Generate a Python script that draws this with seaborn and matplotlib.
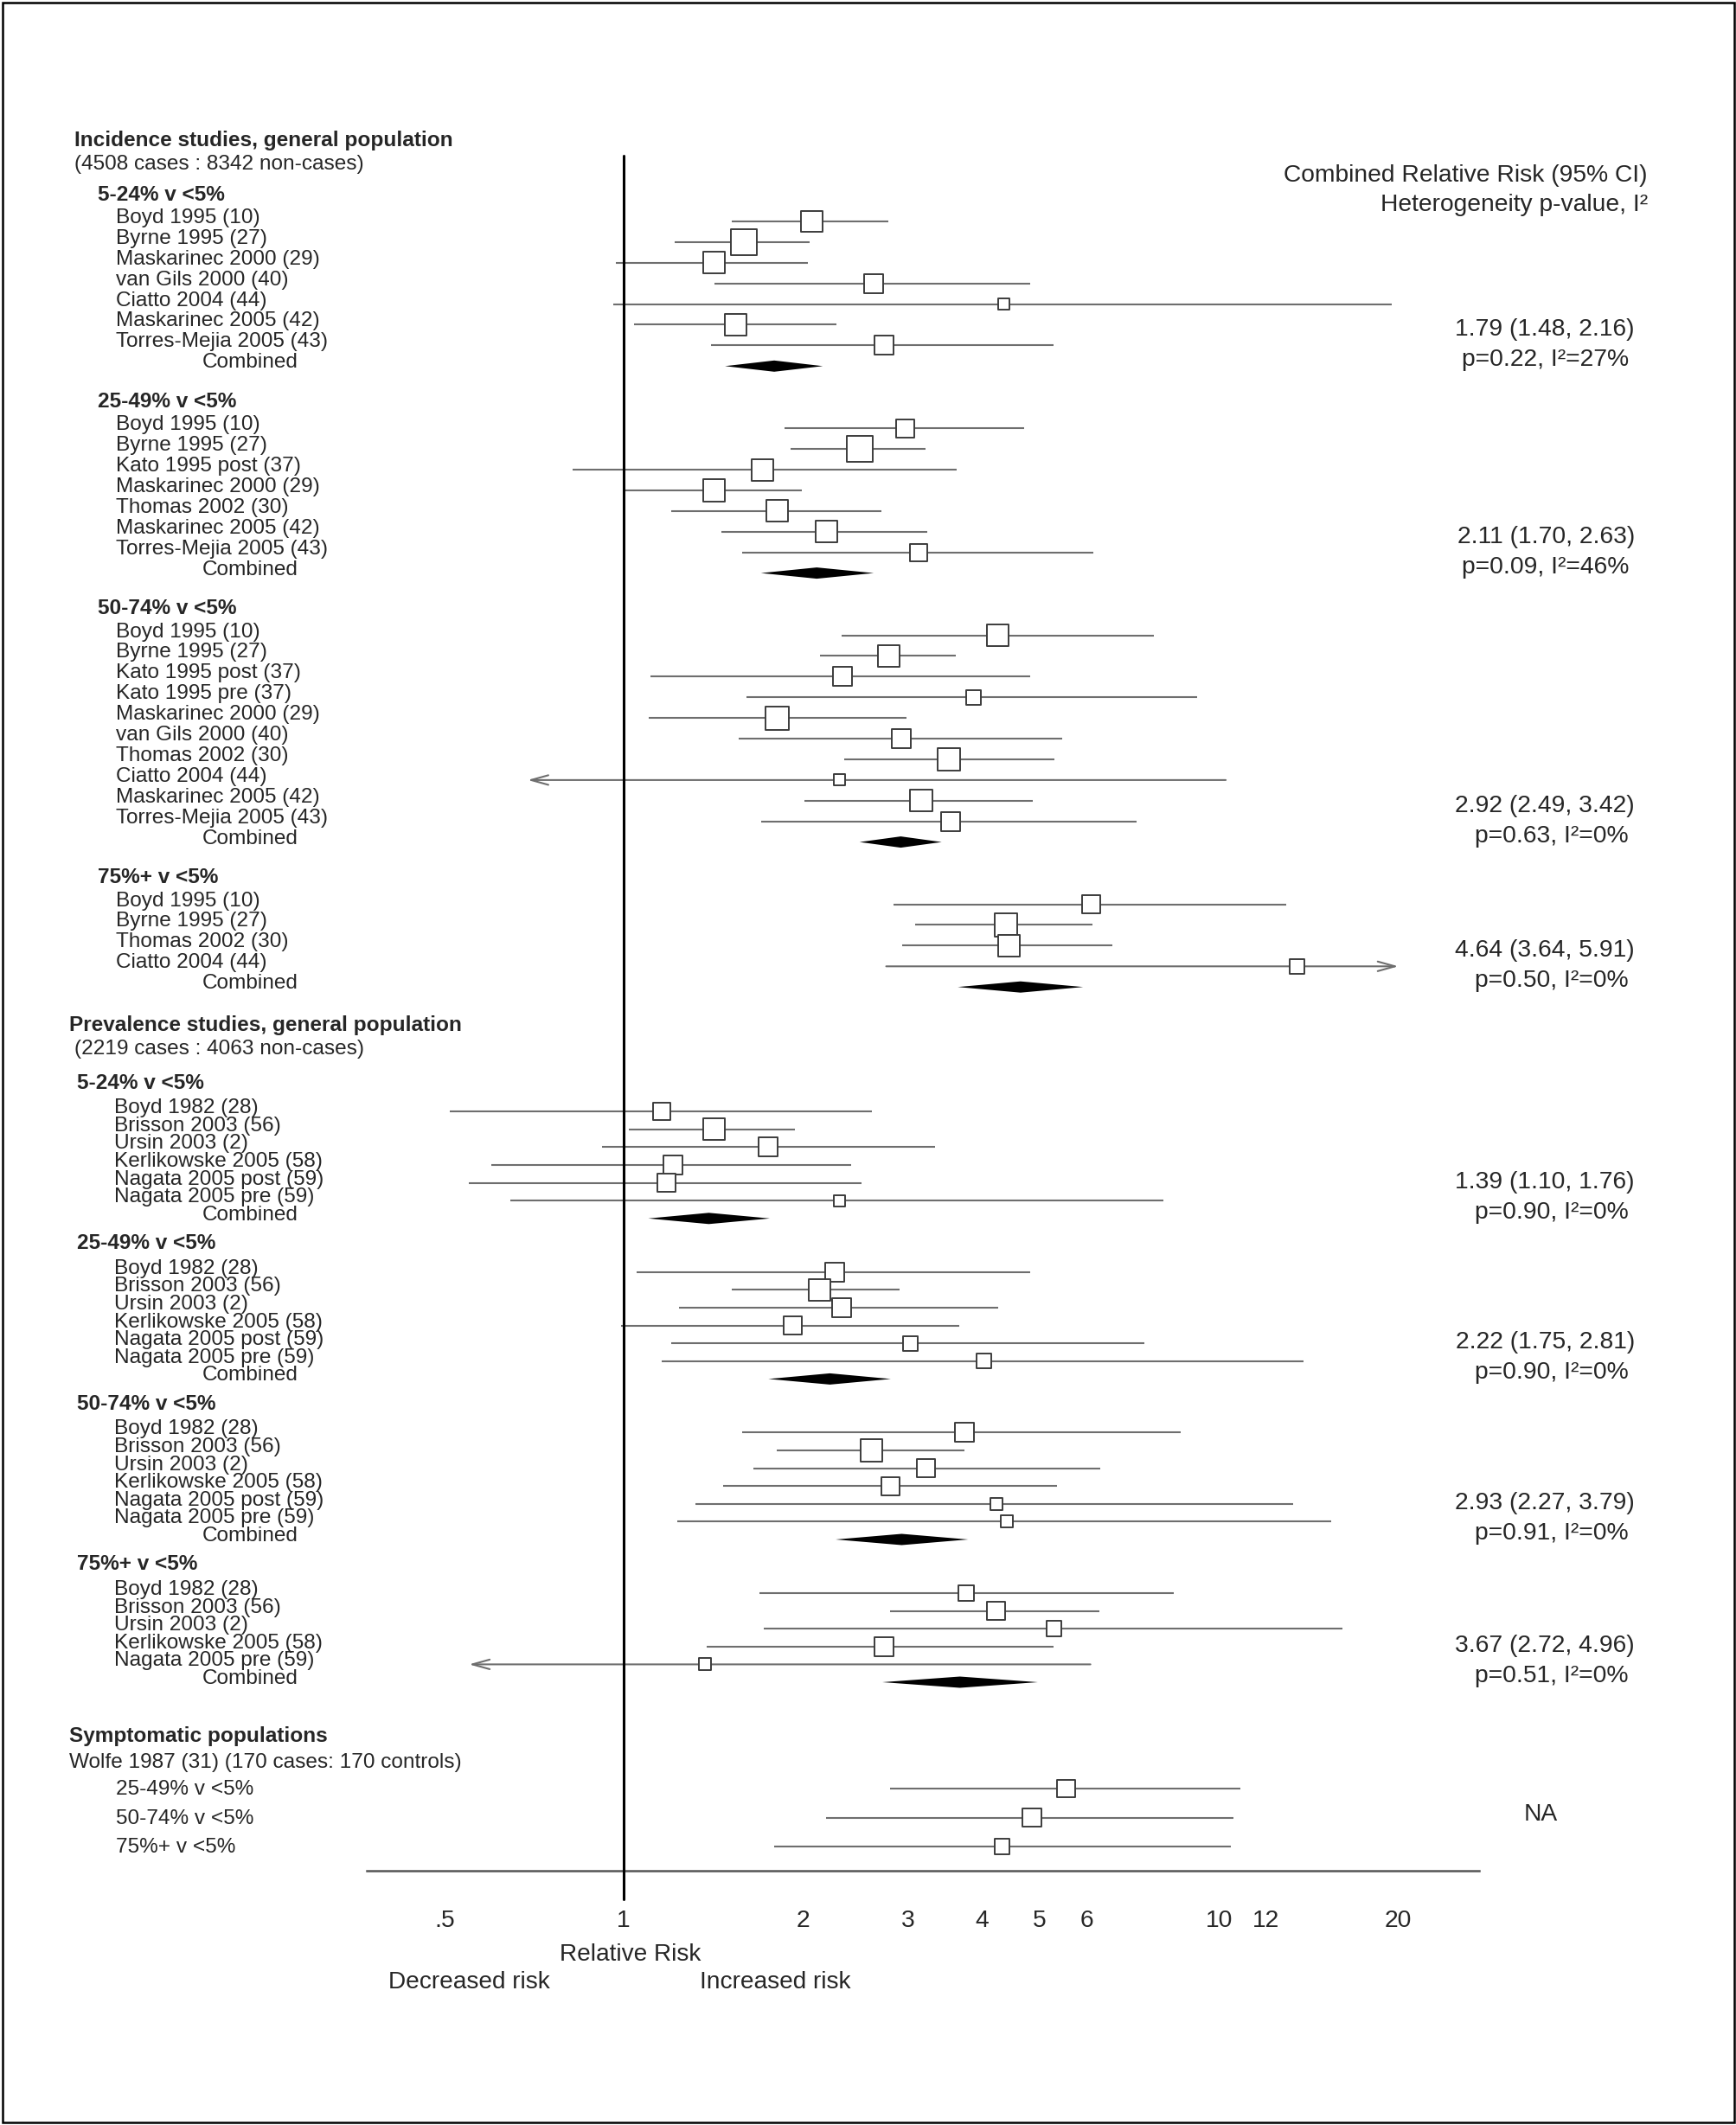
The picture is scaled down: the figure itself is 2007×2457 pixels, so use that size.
import numpy as np
import pandas as pd
import seaborn as sns
import matplotlib.pyplot as plt
from matplotlib.patches import Rectangle
from matplotlib.ticker import NullLocator

##### data
inc_title = "Incidence studies, general population"
inc_cases = "(4508 cases : 8342 non-cases)"
prev_title = "Prevalence studies, general population"
prev_cases = "(2219 cases : 4063 non-cases)"
sym_title = "Symptomatic populations"
sym_study = "Wolfe 1987 (31) (170 cases: 170 controls)"

group_key = ["inc1", "inc2", "inc3", "inc4", "prev1", "prev2", "prev3", "prev4"]
group_label = ["5-24% v <5%", "25-49% v <5%", "50-74% v <5%", "75%+ v <5%",
               "5-24% v <5%", "25-49% v <5%", "50-74% v <5%", "75%+ v <5%"]
comb_rr = [1.79, 2.11, 2.92, 4.64, 1.39, 2.22, 2.93, 3.67]
comb_lo = [1.48, 1.70, 2.49, 3.64, 1.10, 1.75, 2.27, 2.72]
comb_hi = [2.16, 2.63, 3.42, 5.91, 1.76, 2.81, 3.79, 4.96]
het_p = ["0.22", "0.09", "0.63", "0.50", "0.90", "0.90", "0.91", "0.51"]
het_i2 = [27, 46, 0, 0, 0, 0, 0, 0]

study_group = (["inc1"] * 7 + ["inc2"] * 7 + ["inc3"] * 10 + ["inc4"] * 4
               + ["prev1"] * 6 + ["prev2"] * 6 + ["prev3"] * 6 + ["prev4"] * 5
               + ["sym"] * 3)
study_name = [
    # incidence 5-24
    "Boyd 1995 (10)", "Byrne 1995 (27)", "Maskarinec 2000 (29)", "van Gils 2000 (40)",
    "Ciatto 2004 (44)", "Maskarinec 2005 (42)", "Torres-Mejia 2005 (43)",
    # incidence 25-49
    "Boyd 1995 (10)", "Byrne 1995 (27)", "Kato 1995 post (37)", "Maskarinec 2000 (29)",
    "Thomas 2002 (30)", "Maskarinec 2005 (42)", "Torres-Mejia 2005 (43)",
    # incidence 50-74
    "Boyd 1995 (10)", "Byrne 1995 (27)", "Kato 1995 post (37)", "Kato 1995 pre (37)",
    "Maskarinec 2000 (29)", "van Gils 2000 (40)", "Thomas 2002 (30)", "Ciatto 2004 (44)",
    "Maskarinec 2005 (42)", "Torres-Mejia 2005 (43)",
    # incidence 75+
    "Boyd 1995 (10)", "Byrne 1995 (27)", "Thomas 2002 (30)", "Ciatto 2004 (44)",
    # prevalence 5-24, 25-49, 50-74
    "Boyd 1982 (28)", "Brisson 2003 (56)", "Ursin 2003 (2)", "Kerlikowske 2005 (58)",
    "Nagata 2005 post (59)", "Nagata 2005 pre (59)",
    "Boyd 1982 (28)", "Brisson 2003 (56)", "Ursin 2003 (2)", "Kerlikowske 2005 (58)",
    "Nagata 2005 post (59)", "Nagata 2005 pre (59)",
    "Boyd 1982 (28)", "Brisson 2003 (56)", "Ursin 2003 (2)", "Kerlikowske 2005 (58)",
    "Nagata 2005 post (59)", "Nagata 2005 pre (59)",
    # prevalence 75+
    "Boyd 1982 (28)", "Brisson 2003 (56)", "Ursin 2003 (2)", "Kerlikowske 2005 (58)",
    "Nagata 2005 pre (59)",
    # symptomatic
    "25-49% v <5%", "50-74% v <5%", "75%+ v <5%",
]
rr = [2.07, 1.59, 1.42, 2.63, 4.35, 1.54, 2.74,
      2.97, 2.49, 1.71, 1.42, 1.81, 2.19, 3.13,
      4.25, 2.79, 2.33, 3.87, 1.81, 2.93, 3.52, 2.30, 3.16, 3.54,
      6.09, 4.38, 4.44, 13.5,
      1.16, 1.42, 1.75, 1.21, 1.18, 2.30,
      2.26, 2.13, 2.32, 1.92, 3.03, 4.03,
      3.74, 2.61, 3.22, 2.81, 4.23, 4.40,
      3.76, 4.22, 5.28, 2.74, 1.37,
      5.54, 4.85, 4.32]
lo = [1.52, 1.22, 0.97, 1.42, 0.96, 1.04, 1.40,
      1.86, 1.91, 0.82, 1.00, 1.20, 1.46, 1.58,
      2.32, 2.14, 1.11, 1.61, 1.10, 1.56, 2.35, 0.69, 2.01, 1.70,
      2.84, 3.09, 2.94, 2.76,
      0.51, 1.02, 0.92, 0.60, 0.55, 0.645,
      1.05, 1.52, 1.24, 0.99, 1.20, 1.16,
      1.58, 1.81, 1.65, 1.47, 1.32, 1.23,
      1.69, 2.80, 1.72, 1.38, 0.55,
      2.80, 2.19, 1.79]
hi = [2.78, 2.05, 2.04, 4.81, 19.5, 2.28, 5.27,
      4.71, 3.21, 3.62, 1.99, 2.71, 3.24, 6.15,
      7.76, 3.61, 4.82, 9.19, 2.99, 5.46, 5.29, 10.26, 4.87, 7.26,
      12.96, 6.12, 6.61, 20.0,
      2.61, 1.94, 3.33, 2.41, 2.51, 8.06,
      4.81, 2.91, 4.26, 3.66, 7.50, 13.86,
      8.62, 3.73, 6.32, 5.34, 13.3, 15.4,
      8.39, 6.29, 16.1, 5.27, 6.08,
      10.85, 10.56, 10.46]
# relative study weight (box area)
wt = [5.8, 9.0, 6.3, 4.8, 1.6, 6.3, 4.8,
      4.4, 9.0, 6.3, 6.3, 6.3, 6.3, 4.0,
      6.3, 6.3, 4.8, 2.9, 7.3, 4.8, 6.8, 1.7, 6.3, 4.8,
      4.4, 6.8, 6.3, 2.9,
      4.0, 6.3, 4.8, 4.8, 4.4, 1.7,
      4.8, 6.3, 4.8, 4.4, 2.9, 2.9,
      4.8, 6.3, 4.4, 4.4, 2.0, 2.0,
      3.2, 4.4, 3.2, 4.8, 2.0,
      4.4, 4.6, 3.1]
# CI running past the plotted range
arrow = [""] * 21 + ["<"] + [""] * 5 + [">"] + [""] * 22 + ["<"] + [""] * 3

tick_vals = [0.5, 1, 2, 3, 4, 5, 6, 10, 12, 20]
tick_labels = [".5", "1", "2", "3", "4", "5", "6", "10", "12", "20"]

##### figure setup
DPI = 200
W, H = 2008, 2457
AXIS_Y = 2163
SMALL, BIG = 8.8, 10.2

sns.set_style("white")
plt.rcParams["font.family"] = ["Liberation Sans", "DejaVu Sans"]

fig = plt.figure(figsize=(W / DPI, H / DPI), dpi=DPI)
page = fig.add_axes([0, 0, 1, 1])
page.set_xlim(0, W)
page.set_ylim(H, 0)
page.axis("off")
ax = fig.add_axes([424 / W, 1 - AXIS_Y / H, 1286 / W, AXIS_Y / H])
ax.set_facecolor("none")
ax.set_xscale("log")


def txt(x, y, s, size=SMALL, bold=False, ha="left"):
    page.text(x, y, s, fontsize=size, fontweight="bold" if bold else "normal",
              ha=ha, va="center")


##### row layout
ys = np.zeros(len(study_name))
comb_y = {}


def lay_groups(keys, y, x_sub, x_name, first, step, after):
    for k in keys:
        txt(x_sub, y, group_label[group_key.index(k)], bold=True)
        y += first
        for i, g in enumerate(study_group):
            if g == k:
                ys[i] = y
                txt(x_name, y - 4, study_name[i])
                y += step
        comb_y[k] = y
        txt(234, y - 4, "Combined")
        y += after
    return y


txt(86, 162, inc_title, bold=True)
txt(86, 190, inc_cases)
lay_groups(group_key[:4], 225, 113, 134, 31, 23.9, 41)

y0 = comb_y["inc4"] + 44
txt(80, y0, prev_title, bold=True)
txt(86, y0 + 28, prev_cases)
lay_groups(group_key[4:], y0 + 67, 89, 132, 33, 20.6, 29)

y0 = comb_y["prev4"] + 63
txt(80, y0, sym_title, bold=True)
txt(80, y0 + 30, sym_study)
sym_idx = [i for i, g in enumerate(study_group) if g == "sym"]
for j, i in enumerate(sym_idx):
    ys[i] = y0 + 60 + 33.6 * j
    txt(134, ys[i] + 1, study_name[i])
txt(1781, ys[sym_idx[1]] - 4, "NA", size=BIG, ha="center")

df = pd.DataFrame({"name": study_name, "rr": rr, "lo": lo, "hi": hi,
                   "wt": wt, "arrow": arrow, "y": ys})

##### confidence intervals
ci_col = "#6e6e6e"
plain = df[df.arrow == ""]
ax.hlines(plain.y, plain.lo, plain.hi, color=ci_col, lw=0.75, zorder=2)
for _, r in df[df.arrow != ""].iterrows():
    tip, tail = (r.lo, r.hi) if r.arrow == "<" else (r.hi, r.lo)
    ax.annotate("", xy=(tip, r.y), xytext=(tail, r.y),
                arrowprops=dict(arrowstyle="->,head_length=0.72,head_width=0.2",
                                color=ci_col, lw=0.75, shrinkA=0, shrinkB=0,
                                mutation_scale=10), zorder=2)

##### study boxes
px = 72 / DPI
sns.scatterplot(data=df, x="rr", y="y", size="wt", size_norm=(0, 10),
                sizes=(0, 10 * (10 * px) ** 2), marker="s", color="white",
                edgecolor="#3c3c3c", linewidth=0.7, legend=False, ax=ax, zorder=3)

##### pooled diamonds and their text
for k, key in enumerate(group_key):
    cy = comb_y[key]
    ax.fill([comb_lo[k], comb_rr[k], comb_hi[k], comb_rr[k]],
            [cy, cy - 6.5, cy, cy + 6.5], color="black", lw=0, zorder=3)
    txt(1890, cy - 42, f"{comb_rr[k]:.2f} ({comb_lo[k]:.2f}, {comb_hi[k]:.2f})",
        size=BIG, ha="right")
    txt(1883, cy - 7, f"p={het_p[k]}, I²={het_i2[k]}%", size=BIG, ha="right")

txt(1905, 203, "Combined Relative Risk (95% CI)", size=BIG, ha="right")
txt(1905, 237, "Heterogeneity p-value, I²", size=BIG, ha="right")

##### axes
ax.axvline(1, ymin=-33 / AXIS_Y, ymax=1 - 180 / AXIS_Y, color="black", lw=1.1,
           clip_on=False, zorder=4)
ax.set_xlim(0.3703, 27.33)
ax.set_ylim(AXIS_Y, 0)
ax.set_xticks(tick_vals, tick_labels)
ax.xaxis.set_minor_locator(NullLocator())
ax.set_yticks([])
ax.set_xlabel("")
ax.set_ylabel("")
ax.tick_params(axis="x", which="major", direction="out", length=7.2, width=0.5,
               color="#888888", pad=9, labelsize=BIG)
for s in ["top", "left", "right"]:
    ax.spines[s].set_visible(False)
ax.spines["bottom"].set_color("#555555")
ax.spines["bottom"].set_linewidth(0.9)

txt(729, 2260, "Relative Risk", size=BIG - 0.1, ha="center")
txt(542, 2292, "Decreased risk", size=BIG - 0.1, ha="center")
txt(896, 2292, "Increased risk", size=BIG - 0.1, ha="center")

fig.add_artist(Rectangle((0.0015, 0.0012), 0.997, 0.9976, transform=fig.transFigure,
                         fill=False, ec="black", lw=0.9))

fig.savefig("out.png", dpi=DPI)
